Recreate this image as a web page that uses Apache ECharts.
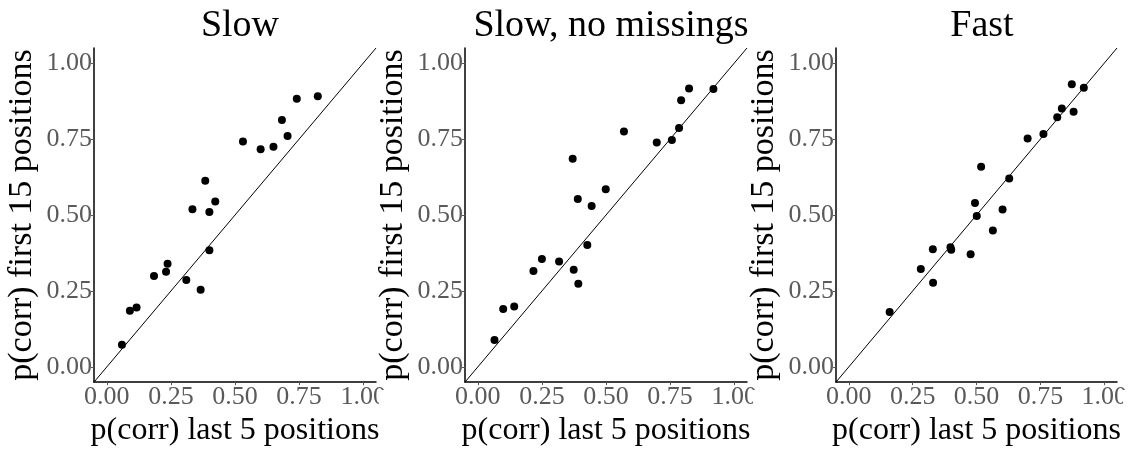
<!DOCTYPE html>
<html>
<head>
<meta charset="utf-8">
<script src="https://cdn.jsdelivr.net/npm/echarts@6/dist/echarts.min.js"></script>
<style>
  html, body { margin: 0; padding: 0; background: #fff; }
  #chart { width: 1130px; height: 452px; }
</style>
</head>
<body>
<div id="chart"></div>
<script>
// panel titles
const panelTitles = ["Slow", "Slow, no missings", "Fast"];
const tickValues = [0, 0.25, 0.5, 0.75, 1];
const refLine = [-0.05, 1.05];

// [p(corr) last 5, p(corr) first 15]
const slowPts = [
  [0.059, 0.073], [0.090, 0.185], [0.116, 0.196], [0.184, 0.299], [0.231, 0.313],
  [0.237, 0.340], [0.310, 0.286], [0.366, 0.254], [0.334, 0.519], [0.384, 0.613],
  [0.400, 0.510], [0.423, 0.545], [0.400, 0.384], [0.531, 0.742], [0.600, 0.717],
  [0.650, 0.725], [0.683, 0.813], [0.705, 0.760], [0.741, 0.883], [0.823, 0.891]
];
const slowNoMissPts = [
  [0.065, 0.089], [0.099, 0.191], [0.142, 0.199], [0.217, 0.316], [0.250, 0.355],
  [0.317, 0.347], [0.374, 0.320], [0.392, 0.274], [0.427, 0.401], [0.370, 0.685],
  [0.390, 0.553], [0.444, 0.530], [0.499, 0.585], [0.570, 0.775], [0.698, 0.739],
  [0.757, 0.747], [0.785, 0.787], [0.793, 0.878], [0.824, 0.917], [0.919, 0.915]
];
const fastPts = [
  [0.160, 0.181], [0.282, 0.322], [0.329, 0.387], [0.330, 0.277], [0.398, 0.394],
  [0.401, 0.386], [0.477, 0.371], [0.494, 0.540], [0.501, 0.497], [0.518, 0.659],
  [0.564, 0.449], [0.602, 0.518], [0.628, 0.620], [0.700, 0.752], [0.762, 0.767],
  [0.816, 0.822], [0.834, 0.851], [0.873, 0.931], [0.880, 0.840], [0.920, 0.919]
];
const panelData = [slowPts, slowNoMissPts, fastPts];

const FONT = "Liberation Serif";
const lefts = [94, 465, 836];
const W = 282, TOP = 48, H = 340;

const chart = echarts.init(document.getElementById("chart"));

const grids = [], xAxes = [], yAxes = [], series = [], titles = [], graphics = [];
lefts.forEach((left, i) => {
  grids.push({ left: left, top: TOP, width: W, height: H });
  titles.push({
    text: panelTitles[i],
    left: left + W / 2,
    textAlign: "center",
    top: 2,
    textStyle: { fontFamily: FONT, fontSize: 38, fontWeight: "normal", color: "#000" }
  });
  const axisCommon = {
    type: "value",
    min: -0.05,
    max: 1.05,
    gridIndex: i,
    nameLocation: "middle",
    nameTextStyle: { fontFamily: FONT, fontSize: 32, color: "#000" },
    axisLine: { show: true, onZero: false, lineStyle: { color: "#000", width: 1.5 } },
    axisTick: { show: true, length: 3, customValues: tickValues, lineStyle: { color: "#555" } },
    axisLabel: {
      customValues: tickValues,
      fontFamily: FONT,
      fontSize: 26,
      color: "#5a5a5a",
      margin: 2,
      formatter: v => v.toFixed(2)
    },
    splitLine: { show: false }
  };
  xAxes.push(Object.assign({}, axisCommon, { name: "p(corr) last 5 positions", nameGap: 24 }));
  yAxes.push(Object.assign({}, axisCommon, {
    name: "p(corr) first 15 positions",
    nameGap: 55,
    nameTextStyle: { fontFamily: FONT, fontSize: 34, color: "#000" }
  }));
  series.push({
    type: "line",
    xAxisIndex: i,
    yAxisIndex: i,
    data: refLine.map(v => [v, v]),
    showSymbol: false,
    lineStyle: { color: "#000", width: 1 },
    silent: true,
    z: 1
  });
  series.push({
    type: "scatter",
    xAxisIndex: i,
    yAxisIndex: i,
    data: panelData[i],
    symbolSize: 8,
    itemStyle: { color: "#000", opacity: 1 },
    z: 2
  });
});

// each sub-plot is cut off at its right edge, hiding part of the "1.00" label
[379, 753, 1123].forEach(x => {
  graphics.push({
    type: "rect",
    shape: { x: x, y: 390, width: 30, height: 24 },
    style: { fill: "#fff" },
    z: 100
  });
});

chart.setOption({
  animation: false,
  backgroundColor: "#fff",
  title: titles,
  grid: grids,
  xAxis: xAxes,
  yAxis: yAxes,
  series: series,
  graphic: graphics
});
</script>
</body>
</html>
